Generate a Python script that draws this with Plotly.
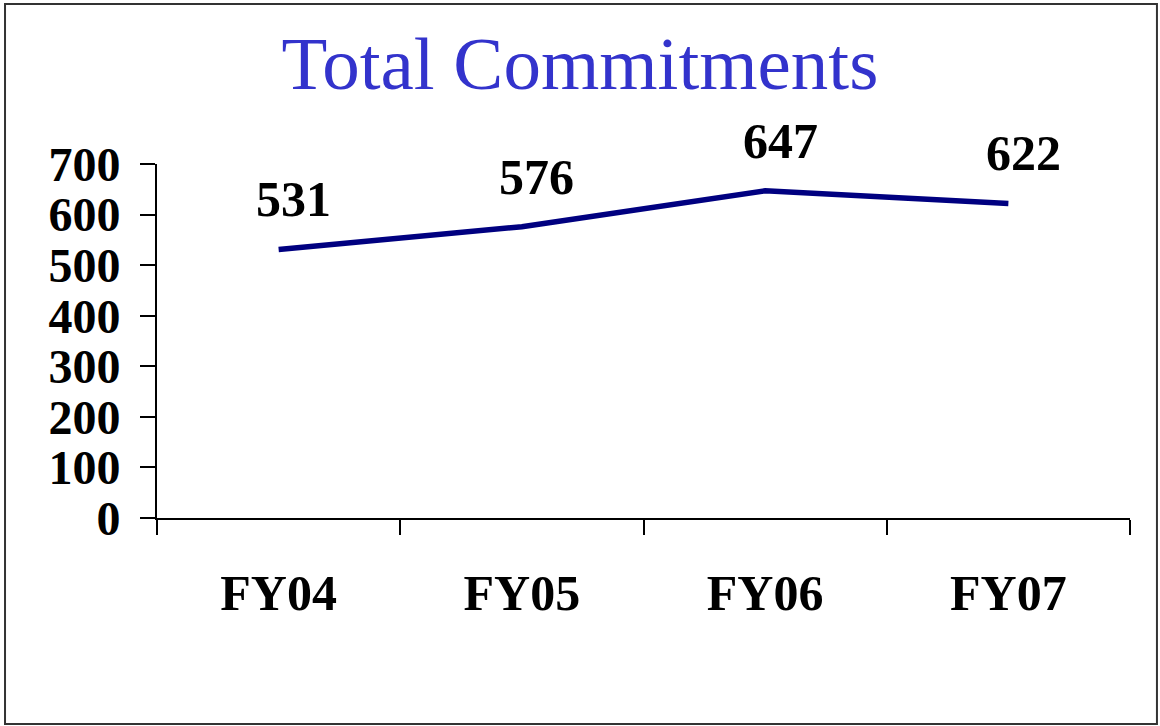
import plotly.graph_objects as go

years = ["FY04", "FY05", "FY06", "FY07"]
commitments = [531, 576, 647, 622]

fig = go.Figure()

# Commitment line
fig.add_trace(
    go.Scatter(
        x=years,
        y=commitments,
        mode="lines",
        line=dict(color="#000080", width=5.5),
        showlegend=False,
        hoverinfo="skip"
    )
)

# Value labels above each point
for yr, val in zip(years, commitments):
    fig.add_annotation(
        x=yr, y=val,
        text=str(val),
        showarrow=False,
        xshift=15, yshift=50,
        font=dict(family="Liberation Serif", size=50, color="black", weight="bold")
    )

# Frame around the whole picture
fig.add_shape(
    type="rect", xref="paper", yref="paper",
    x0=-0.1562, x1=1.0277, y0=-0.582, y1=1.452,
    line=dict(color="#333333", width=2)
)

fig.update_layout(
    width=1160,
    height=726,
    margin=dict(l=157, r=30, t=164, b=208),
    paper_bgcolor="white",
    plot_bgcolor="white",
    title=dict(
        text="Total Commitments",
        x=0.5, xref="container", xanchor="center",
        y=1 - 63 / 726, yref="container", yanchor="middle",
        font=dict(family="Liberation Serif", size=75, color="#3333CC")
    ),
    xaxis=dict(
        type="category",
        range=[-0.5, 3.5],
        tickson="boundaries",
        ticks="outside", ticklen=15, tickwidth=2, tickcolor="black",
        showline=True, linecolor="black", linewidth=2,
        showgrid=False, zeroline=False,
        ticklabelstandoff=30,
        tickfont=dict(family="Liberation Serif", size=50, color="black", weight="bold")
    ),
    yaxis=dict(
        range=[0, 700], dtick=100,
        ticks="outside", ticklen=15, tickwidth=2, tickcolor="black",
        showline=True, linecolor="black", linewidth=2,
        showgrid=False, zeroline=False,
        ticklabelstandoff=10,
        tickfont=dict(family="Liberation Serif", size=48, color="black", weight="bold")
    )
)

# drop the page's default body margin so the chart sits at the window corner
fig.write_html(
    "out.html",
    config={"displayModeBar": False},
    post_script="document.body.style.margin='0';"
)
